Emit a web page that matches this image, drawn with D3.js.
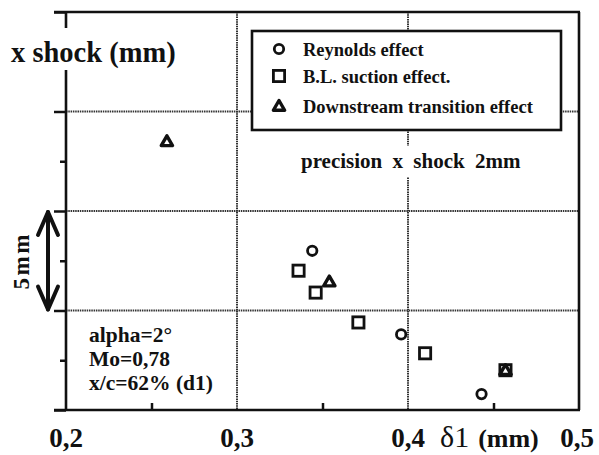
<!DOCTYPE html>
<html><head><meta charset="utf-8">
<script src="https://cdn.jsdelivr.net/npm/d3@7"></script>
<style>body{margin:0;background:#fff}svg{display:block}text{font-family:"Liberation Serif","Times New Roman",serif;font-weight:bold;fill:#111}</style>
</head><body><svg id="c" width="599" height="455"></svg>
<script>
// data (δ1 in mm, x shock in mm)
const reynoldsX = [0.344, 0.396, 0.443];
const reynoldsY = [8.0, 3.8, 0.8];
const suctionX = [0.336, 0.346, 0.371, 0.410, 0.457];
const suctionY = [7.0, 5.9, 4.4, 2.85, 2.0];
const transitionX = [0.259, 0.354, 0.457];
const transitionY = [13.5, 6.45, 2.0];
const xTicks = [0.2, 0.3, 0.4, 0.5];
const xTickLabels = ["0,2", "0,3", "0,4", "0,5"];
const xMinor = [0.25, 0.35, 0.45];
const yMajor = [0, 5, 10, 15, 20];
const yMinor = [2.5, 7.5, 12.5, 17.5];
const legendLabels = ["Reynolds effect", "B.L. suction effect.", "Downstream transition effect"];

const svg = d3.select("#c");
const L = 66, R = 579, T = 12, B = 410;
const x = d3.scaleLinear().domain([0.2, 0.5]).range([L, R]);
const y = d3.scaleLinear().domain([0, 20]).range([B, T]);

// gridlines
const grid = svg.append("g").attr("stroke", "#333").attr("stroke-width", 2).attr("stroke-dasharray", "1.5,0.8");
grid.selectAll(".gx").data([0.3, 0.4]).join("line")
  .attr("x1", d => x(d)).attr("x2", d => x(d)).attr("y1", T).attr("y2", B);
grid.selectAll(".gy").data([5, 10, 15]).join("line")
  .attr("y1", d => y(d)).attr("y2", d => y(d)).attr("x1", L).attr("x2", R);

// axes
const yAxis = d3.axisLeft(y).tickValues(yMajor).tickSize(12).tickFormat("");
const gy = svg.append("g").attr("transform", `translate(${L},0)`).call(yAxis);
const yAxisMinor = d3.axisLeft(y).tickValues(yMinor).tickSize(6).tickFormat("");
const gym = svg.append("g").attr("transform", `translate(${L},0)`).call(yAxisMinor);
const xAxis = d3.axisBottom(x).tickValues(xTicks).tickSize(0).tickFormat("");
const gx = svg.append("g").attr("transform", `translate(0,${B})`).call(xAxis);
const xAxisMinor = d3.axisTop(x).tickValues(xMinor).tickSize(7).tickFormat("");
const gxm = svg.append("g").attr("transform", `translate(0,${B})`).call(xAxisMinor);
[gy, gym, gx, gxm].forEach(g => {
  g.selectAll(".domain").attr("stroke", "none");
  g.selectAll(".tick line").attr("stroke", "#111").attr("stroke-width", 2.5);
});
// frame
const frame = svg.append("g").attr("stroke", "#111").attr("stroke-width", 2.6).attr("fill", "none");
frame.append("line").attr("x1", L - 12).attr("x2", R + 1).attr("y1", B).attr("y2", B);
frame.append("line").attr("x1", L - 12).attr("x2", R + 1).attr("y1", T).attr("y2", T);
frame.append("line").attr("x1", L).attr("x2", L).attr("y1", T).attr("y2", B);
frame.append("line").attr("x1", R).attr("x2", R).attr("y1", T).attr("y2", B);

// x tick labels
svg.append("g").selectAll("text").data(xTicks).join("text")
  .attr("x", (d, i) => x(d) - (i === 3 ? 2 : 0)).attr("y", 447).attr("text-anchor", "middle")
  .attr("font-size", 27).text((d, i) => xTickLabels[i]);
// x axis title
const xt = svg.append("text").attr("x", 440).attr("y", 447);
xt.append("tspan").attr("font-size", 30).attr("font-weight", "normal").text("δ1");
xt.append("tspan").attr("font-size", 26).attr("dx", 9).text("(mm)");

// y title with white background
svg.append("rect").attr("x", 8).attr("y", 28).attr("width", 172).attr("height", 42).attr("fill", "#fff");
svg.append("text").attr("x", 11).attr("y", 62).attr("font-size", 28.5).text("x shock (mm)");

// 5mm arrow
const ar = svg.append("g").attr("stroke", "#111").attr("stroke-width", 4).attr("fill", "none")
  .attr("stroke-linecap", "round").attr("stroke-linejoin", "round");
const ax = 48, a1 = y(10), a2 = y(5);
ar.append("line").attr("x1", ax).attr("x2", ax).attr("y1", a1 + 1).attr("y2", a2 - 1);
ar.append("polyline").attr("points", `${ax - 10},${a1 + 24} ${ax},${a1 + 1} ${ax + 10},${a1 + 24}`);
ar.append("polyline").attr("points", `${ax - 10},${a2 - 24} ${ax},${a2 - 1} ${ax + 10},${a2 - 24}`);
svg.append("text").attr("transform", `translate(29,${(a1 + a2) / 2}) rotate(-90)`)
  .attr("text-anchor", "middle").attr("font-size", 23).attr("letter-spacing", 2.5).text("5mm");

// annotations
svg.append("rect").attr("x", 296).attr("y", 146).attr("width", 232).attr("height", 31).attr("fill", "#fff");
svg.append("text").attr("x", 301).attr("y", 168).attr("font-size", 21).attr("word-spacing", 5).text("precision x shock 2mm");
const info = ["alpha=2°", "Mo=0,78", "x/c=62% (d1)"];
svg.append("g").selectAll("text").data(info).join("text")
  .attr("x", 89).attr("y", (d, i) => 342 + i * 24).attr("font-size", 21.5).text(d => d);

// markers
const mk = svg.append("g").attr("fill", "none").attr("stroke", "#111").attr("stroke-width", 2.8);
const tri = d3.symbol().type(d3.symbolTriangle).size(55);
function drawCircle(g, cx, cy) { g.append("circle").attr("cx", cx).attr("cy", cy).attr("r", 4.7); }
function drawSquare(g, cx, cy) { g.append("rect").attr("x", cx - 5.6).attr("y", cy - 5.6).attr("width", 11.2).attr("height", 11.2); }
function drawTri(g, cx, cy) { g.append("path").attr("d", tri()).attr("transform", `translate(${cx},${cy + 1})`)
  .attr("stroke-linejoin", "round").attr("stroke-width", 3.4); }
reynoldsX.forEach((d, i) => drawCircle(mk, x(d), y(reynoldsY[i])));
suctionX.forEach((d, i) => drawSquare(mk, x(d), y(suctionY[i])));
transitionX.forEach((d, i) => drawTri(mk, x(d), y(transitionY[i])));

// legend
const lg = svg.append("g");
lg.append("rect").attr("x", 252).attr("y", 31).attr("width", 309).attr("height", 99)
  .attr("fill", "#fff").attr("stroke", "#111").attr("stroke-width", 2.6);
const lm = lg.append("g").attr("fill", "none").attr("stroke", "#111").attr("stroke-width", 2.8);
const ly = [49, 76, 106];
drawCircle(lm, 279, ly[0]);
drawSquare(lm, 279, ly[1]);
drawTri(lm, 279, ly[2]);
lg.selectAll("text").data(legendLabels).join("text")
  .attr("x", 303).attr("y", (d, i) => ly[i] + 7).attr("font-size", 18.5).text(d => d);
</script></body></html>
